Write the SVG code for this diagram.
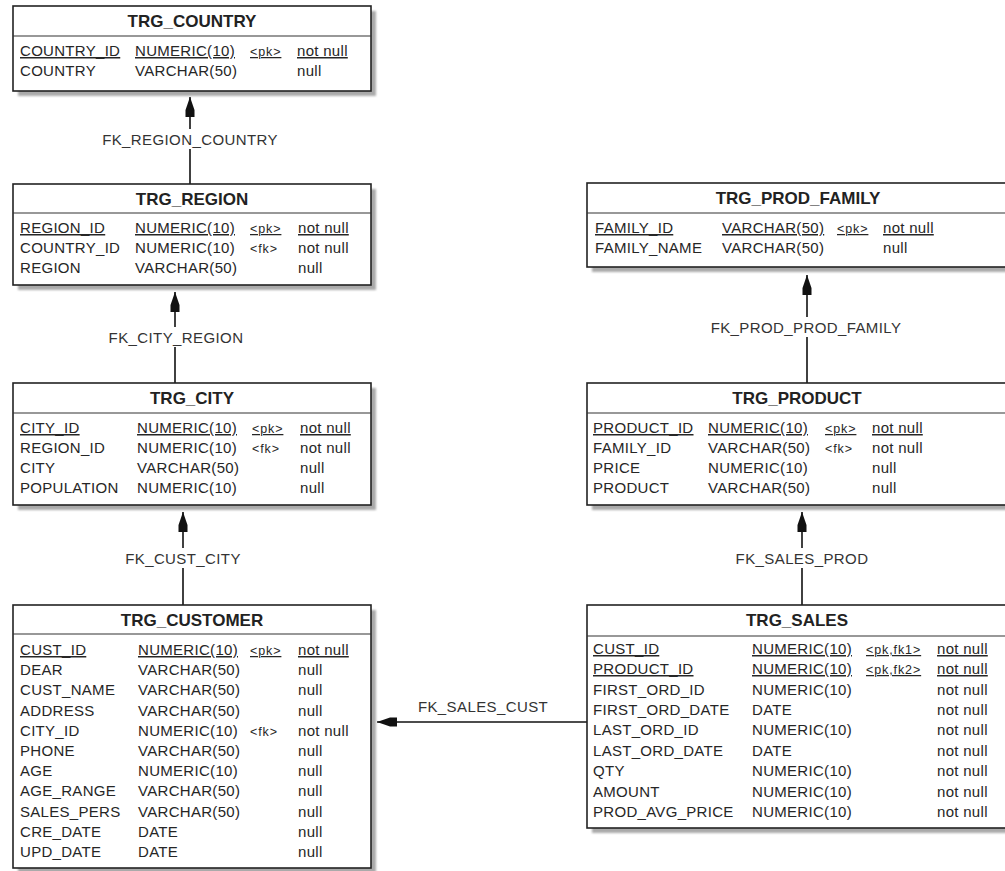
<svg xmlns="http://www.w3.org/2000/svg" width="1005" height="871" viewBox="0 0 1005 871">
<style>
.shadow{fill:#aaaaaa;filter:url(#blur)}
.box{fill:#fff;stroke:#222;stroke-width:1.6}
.div{stroke:#333;stroke-width:1.2}
.title{font-family:"Liberation Sans",Arial,sans-serif;font-size:17px;font-weight:bold;fill:#222;text-anchor:middle}
.row{font-family:"Liberation Sans",Arial,sans-serif;font-size:15px;fill:#262626;letter-spacing:0.3px}
.key{font-family:"Liberation Sans",Arial,sans-serif;font-size:12.5px;fill:#262626;letter-spacing:0.9px}
.u{text-decoration:underline}
.conn{stroke:#111;stroke-width:1.6;fill:none}
.lbl{font-family:"Liberation Sans",Arial,sans-serif;font-size:15px;fill:#333;text-anchor:middle;letter-spacing:0.4px}
.lblbg{fill:#fff}
</style>
<defs>
<filter id="blur" x="-5%" y="-5%" width="110%" height="110%"><feGaussianBlur stdDeviation="1"/></filter>
<marker id="arr" markerUnits="userSpaceOnUse" viewBox="-21 -6 22 12" refX="0" refY="0" markerWidth="22" markerHeight="12" orient="auto">
<polygon points="0,0 -13,-4.5 -20,-4.5 -20,4.5 -13,4.5" fill="#111"/>
</marker>
</defs>
<rect width="1005" height="871" fill="#fff"/>

<g id="connectors">
<path class="conn" d="M190,184 V97" marker-end="url(#arr)"/>
<rect class="lblbg" x="95" y="129" width="190" height="20"/>
<text class="lbl" x="190" y="145">FK_REGION_COUNTRY</text>

<path class="conn" d="M175,383 V292" marker-end="url(#arr)"/>
<rect class="lblbg" x="105" y="327" width="142" height="20"/>
<text class="lbl" x="176" y="343">FK_CITY_REGION</text>

<path class="conn" d="M183,605 V512" marker-end="url(#arr)"/>
<rect class="lblbg" x="122" y="548" width="122" height="20"/>
<text class="lbl" x="183" y="564">FK_CUST_CITY</text>

<path class="conn" d="M807,383 V275" marker-end="url(#arr)"/>
<rect class="lblbg" x="705" y="317" width="202" height="20"/>
<text class="lbl" x="806" y="333">FK_PROD_PROD_FAMILY</text>

<path class="conn" d="M802,605 V512" marker-end="url(#arr)"/>
<rect class="lblbg" x="732" y="548" width="140" height="20"/>
<text class="lbl" x="802" y="564">FK_SALES_PROD</text>

<path class="conn" d="M587,722 H377" marker-end="url(#arr)"/>
<text class="lbl" x="483" y="712">FK_SALES_CUST</text>
</g>

<g id="TRG_COUNTRY">
<rect class="shadow" x="18" y="11" width="358" height="85"/>
<rect class="box" x="13" y="6" width="358" height="85"/>
<line class="div" x1="13" y1="36" x2="371" y2="36"/>
<text class="title" x="192" y="27">TRG_COUNTRY</text>
<text class="row u" x="20" y="56">COUNTRY_ID</text><text class="row u" x="135" y="56">NUMERIC(10)</text><text class="key u" x="250" y="56">&lt;pk&gt;</text><text class="row u" x="297" y="56">not null</text>
<text class="row" x="20" y="76">COUNTRY</text><text class="row" x="135" y="76">VARCHAR(50)</text><text class="row" x="297" y="76">null</text>
</g>

<g id="TRG_REGION">
<rect class="shadow" x="18" y="189" width="358" height="101"/>
<rect class="box" x="13" y="184" width="358" height="101"/>
<line class="div" x1="13" y1="213" x2="371" y2="213"/>
<text class="title" x="192" y="204.5">TRG_REGION</text>
<text class="row u" x="20" y="233">REGION_ID</text><text class="row u" x="135" y="233">NUMERIC(10)</text><text class="key u" x="250" y="233">&lt;pk&gt;</text><text class="row u" x="298" y="233">not null</text>
<text class="row" x="20" y="253">COUNTRY_ID</text><text class="row" x="135" y="253">NUMERIC(10)</text><text class="key" x="250" y="253">&lt;fk&gt;</text><text class="row" x="298" y="253">not null</text>
<text class="row" x="20" y="273">REGION</text><text class="row" x="135" y="273">VARCHAR(50)</text><text class="row" x="298" y="273">null</text>
</g>

<g id="TRG_CITY">
<rect class="shadow" x="18" y="388" width="358" height="122"/>
<rect class="box" x="13" y="383" width="358" height="122"/>
<line class="div" x1="13" y1="413" x2="371" y2="413"/>
<text class="title" x="192" y="404">TRG_CITY</text>
<text class="row u" x="20" y="433">CITY_ID</text><text class="row u" x="137" y="433">NUMERIC(10)</text><text class="key u" x="252" y="433">&lt;pk&gt;</text><text class="row u" x="300" y="433">not null</text>
<text class="row" x="20" y="453">REGION_ID</text><text class="row" x="137" y="453">NUMERIC(10)</text><text class="key" x="252" y="453">&lt;fk&gt;</text><text class="row" x="300" y="453">not null</text>
<text class="row" x="20" y="473">CITY</text><text class="row" x="137" y="473">VARCHAR(50)</text><text class="row" x="300" y="473">null</text>
<text class="row" x="20" y="493">POPULATION</text><text class="row" x="137" y="493">NUMERIC(10)</text><text class="row" x="300" y="493">null</text>
</g>

<g id="TRG_CUSTOMER">
<rect class="shadow" x="18" y="610" width="358" height="263"/>
<rect class="box" x="13" y="605" width="358" height="263"/>
<line class="div" x1="13" y1="634" x2="371" y2="634"/>
<text class="title" x="192" y="626">TRG_CUSTOMER</text>
<text class="row u" x="20" y="655">CUST_ID</text><text class="row u" x="138" y="655">NUMERIC(10)</text><text class="key u" x="250" y="655">&lt;pk&gt;</text><text class="row u" x="298" y="655">not null</text>
<text class="row" x="20" y="675">DEAR</text><text class="row" x="138" y="675">VARCHAR(50)</text><text class="row" x="298" y="675">null</text>
<text class="row" x="20" y="695">CUST_NAME</text><text class="row" x="138" y="695">VARCHAR(50)</text><text class="row" x="298" y="695">null</text>
<text class="row" x="20" y="716">ADDRESS</text><text class="row" x="138" y="716">VARCHAR(50)</text><text class="row" x="298" y="716">null</text>
<text class="row" x="20" y="736">CITY_ID</text><text class="row" x="138" y="736">NUMERIC(10)</text><text class="key" x="250" y="736">&lt;fk&gt;</text><text class="row" x="298" y="736">not null</text>
<text class="row" x="20" y="756">PHONE</text><text class="row" x="138" y="756">VARCHAR(50)</text><text class="row" x="298" y="756">null</text>
<text class="row" x="20" y="776">AGE</text><text class="row" x="138" y="776">NUMERIC(10)</text><text class="row" x="298" y="776">null</text>
<text class="row" x="20" y="796">AGE_RANGE</text><text class="row" x="138" y="796">VARCHAR(50)</text><text class="row" x="298" y="796">null</text>
<text class="row" x="20" y="817">SALES_PERS</text><text class="row" x="138" y="817">VARCHAR(50)</text><text class="row" x="298" y="817">null</text>
<text class="row" x="20" y="837">CRE_DATE</text><text class="row" x="138" y="837">DATE</text><text class="row" x="298" y="837">null</text>
<text class="row" x="20" y="857">UPD_DATE</text><text class="row" x="138" y="857">DATE</text><text class="row" x="298" y="857">null</text>
</g>

<g id="TRG_PROD_FAMILY">
<rect class="shadow" x="592" y="188" width="425" height="84"/>
<rect class="box" x="587" y="183" width="425" height="84"/>
<line class="div" x1="587" y1="213" x2="1012" y2="213"/>
<text class="title" x="798" y="204">TRG_PROD_FAMILY</text>
<text class="row u" x="595" y="233">FAMILY_ID</text><text class="row u" x="722" y="233">VARCHAR(50)</text><text class="key u" x="837" y="233">&lt;pk&gt;</text><text class="row u" x="883" y="233">not null</text>
<text class="row" x="595" y="253">FAMILY_NAME</text><text class="row" x="722" y="253">VARCHAR(50)</text><text class="row" x="883" y="253">null</text>
</g>

<g id="TRG_PRODUCT">
<rect class="shadow" x="592" y="388" width="425" height="122"/>
<rect class="box" x="587" y="383" width="425" height="122"/>
<line class="div" x1="587" y1="413" x2="1012" y2="413"/>
<text class="title" x="797" y="404">TRG_PRODUCT</text>
<text class="row u" x="593" y="433">PRODUCT_ID</text><text class="row u" x="708" y="433">NUMERIC(10)</text><text class="key u" x="825" y="433">&lt;pk&gt;</text><text class="row u" x="872" y="433">not null</text>
<text class="row" x="593" y="453">FAMILY_ID</text><text class="row" x="708" y="453">VARCHAR(50)</text><text class="key" x="825" y="453">&lt;fk&gt;</text><text class="row" x="872" y="453">not null</text>
<text class="row" x="593" y="473">PRICE</text><text class="row" x="708" y="473">NUMERIC(10)</text><text class="row" x="872" y="473">null</text>
<text class="row" x="593" y="493">PRODUCT</text><text class="row" x="708" y="493">VARCHAR(50)</text><text class="row" x="872" y="493">null</text>
</g>

<g id="TRG_SALES">
<rect class="shadow" x="592" y="610" width="425" height="223"/>
<rect class="box" x="587" y="605" width="425" height="223"/>
<line class="div" x1="587" y1="636" x2="1012" y2="636"/>
<text class="title" x="797" y="626">TRG_SALES</text>
<text class="row u" x="593" y="654">CUST_ID</text><text class="row u" x="752" y="654">NUMERIC(10)</text><text class="key u" x="866" y="654">&lt;pk,fk1&gt;</text><text class="row u" x="937" y="654">not null</text>
<text class="row u" x="593" y="674">PRODUCT_ID</text><text class="row u" x="752" y="674">NUMERIC(10)</text><text class="key u" x="866" y="674">&lt;pk,fk2&gt;</text><text class="row u" x="937" y="674">not null</text>
<text class="row" x="593" y="695">FIRST_ORD_ID</text><text class="row" x="752" y="695">NUMERIC(10)</text><text class="row" x="937" y="695">not null</text>
<text class="row" x="593" y="715">FIRST_ORD_DATE</text><text class="row" x="752" y="715">DATE</text><text class="row" x="937" y="715">not null</text>
<text class="row" x="593" y="735">LAST_ORD_ID</text><text class="row" x="752" y="735">NUMERIC(10)</text><text class="row" x="937" y="735">not null</text>
<text class="row" x="593" y="756">LAST_ORD_DATE</text><text class="row" x="752" y="756">DATE</text><text class="row" x="937" y="756">not null</text>
<text class="row" x="593" y="776">QTY</text><text class="row" x="752" y="776">NUMERIC(10)</text><text class="row" x="937" y="776">not null</text>
<text class="row" x="593" y="797">AMOUNT</text><text class="row" x="752" y="797">NUMERIC(10)</text><text class="row" x="937" y="797">not null</text>
<text class="row" x="593" y="817">PROD_AVG_PRICE</text><text class="row" x="752" y="817">NUMERIC(10)</text><text class="row" x="937" y="817">not null</text>
</g>
</svg>
